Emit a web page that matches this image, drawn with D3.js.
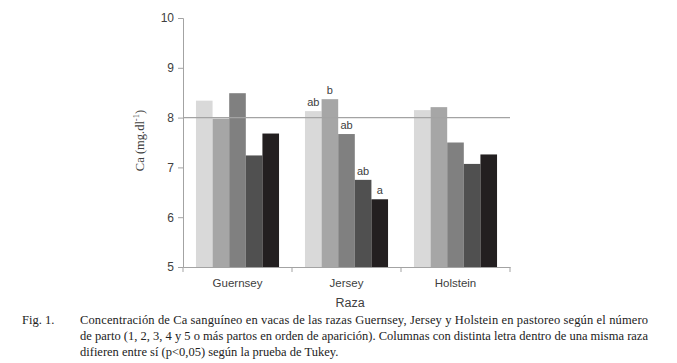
<!DOCTYPE html>
<html lang='es'>
<head>
  <meta charset='UTF-8'>
  <title>Ca sanguíneo</title>
  <style>
    body { margin: 0; background: #fff; }
    svg { display: block; }
  </style>
</head>
<body>
  <script src='https://cdn.jsdelivr.net/npm/d3@7/dist/d3.min.js'></script>
  <script>
// datos
const razas = ['Guernsey', 'Jersey', 'Holstein'];
const partos = ['1', '2', '3', '4', '5+'];
const parto1 = [8.34, 8.13, 8.15];
const parto2 = [7.98, 8.37, 8.21];
const parto3 = [8.49, 7.67, 7.50];
const parto4 = [7.24, 6.75, 7.07];
const parto5 = [7.68, 6.36, 7.26];
const letrasGuernsey = ['', '', '', '', ''];
const letrasJersey = ['ab', 'b', 'ab', 'ab', 'a'];
const letrasHolstein = ['', '', '', '', ''];
const yTicks = [5, 6, 7, 8, 9, 10];

const series = [parto1, parto2, parto3, parto4, parto5];
const letras = [letrasGuernsey, letrasJersey, letrasHolstein];
const colores = ['#d9d9d9', '#a6a6a6', '#808080', '#505050', '#231f20'];

const width = 677, height = 363;
const margin = { left: 183, right: 167, top: 18, bottom: 96 };

const svg = d3.select('body').append('svg')
    .attr('width', width)
    .attr('height', height);

const x0 = d3.scaleBand()
    .domain(razas)
    .range([margin.left, width - margin.right])
    .paddingInner(0).paddingOuter(0);

const x1 = d3.scaleBand()
    .domain(partos)
    .range([0, x0.bandwidth()])
    .paddingInner(0).paddingOuter(0.78);

const y = d3.scaleLinear()
    .domain([5, 10])
    .range([height - margin.bottom, margin.top]);

// barras
const filas = [];
razas.forEach((r, i) => {
  partos.forEach((p, j) => {
    filas.push({ raza: r, parto: p, valor: series[j][i], letra: letras[i][j], j: j });
  });
});

svg.append('g').selectAll('rect')
    .data(filas)
    .enter().append('rect')
    .attr('x', d => x0(d.raza) + x1(d.parto))
    .attr('width', x1.bandwidth())
    .attr('y', d => y(d.valor))
    .attr('height', d => y(5) - y(d.valor))
    .attr('fill', d => colores[d.j]);

// línea de referencia en 8
svg.append('line')
    .attr('x1', margin.left).attr('x2', width - margin.right)
    .attr('y1', y(8)).attr('y2', y(8))
    .attr('stroke', '#a3a3a3').attr('stroke-width', 1.2);

// letras de Tukey
svg.append('g').selectAll('text')
    .data(filas.filter(d => d.letra))
    .enter().append('text')
    .attr('x', d => x0(d.raza) + x1(d.parto) + x1.bandwidth() / 2)
    .attr('y', d => y(d.valor) - 5)
    .attr('text-anchor', 'middle')
    .attr('font-family', 'Liberation Sans, Arial, sans-serif')
    .attr('font-size', 11)
    .attr('fill', '#404040')
    .text(d => d.letra);

// eje y
const yAxis = svg.append('g')
    .attr('transform', 'translate(' + margin.left + ',0)')
    .call(d3.axisLeft(y).tickValues(yTicks).tickFormat(d3.format('d')).tickSize(5).tickPadding(4));
yAxis.select('.domain').attr('stroke', '#a3a3a3');
yAxis.selectAll('.tick line').attr('stroke', '#a3a3a3');
yAxis.selectAll('.tick text')
    .attr('font-family', 'Liberation Sans, Arial, sans-serif')
    .attr('font-size', 12)
    .attr('fill', '#404040');

// eje x
const xAxis = svg.append('g')
    .attr('transform', 'translate(0,' + y(5) + ')')
    .call(d3.axisBottom(x0).tickSize(0).tickPadding(12).tickSizeOuter(0));
xAxis.select('.domain').attr('stroke', '#a3a3a3');
xAxis.selectAll('.tick text')
    .attr('font-family', 'Liberation Sans, Arial, sans-serif')
    .attr('font-size', 11.5)
    .attr('fill', '#404040');
const bordes = razas.map(r => x0(r)).concat([x0.range()[1]]);
xAxis.selectAll('.sep')
    .data(bordes)
    .enter().append('line')
    .attr('x1', d => d).attr('x2', d => d)
    .attr('y1', 0).attr('y2', 5)
    .attr('stroke', '#a3a3a3');

// títulos de ejes
svg.append('text')
    .attr('transform', 'translate(144,' + (y(7.5) - 2) + ') rotate(-90)')
    .attr('text-anchor', 'middle')
    .attr('font-family', 'Liberation Serif, Times New Roman, serif')
    .attr('font-size', 12.5)
    .attr('fill', '#404040')
    .call(t => {
      t.append('tspan').text('Ca (mg.dl');
      t.append('tspan').attr('font-size', 8.5).attr('dy', -5).text('-1');
      t.append('tspan').attr('dy', 5).text(')');
    });

svg.append('text')
    .attr('x', 350).attr('y', 307)
    .attr('text-anchor', 'middle')
    .attr('font-family', 'Liberation Sans, Arial, sans-serif')
    .attr('font-size', 12.5)
    .attr('fill', '#404040')
    .text('Raza');

// pie de figura
const pie = [
  'Concentración de Ca sanguíneo en vacas de las razas Guernsey, Jersey y Holstein en pastoreo según el número',
  'de parto (1, 2, 3, 4 y 5 o más partos en orden de aparición). Columnas con distinta letra dentro de una misma raza',
  'difieren entre sí (p<0,05) según la prueba de Tukey.'
];
const cap = svg.append('g')
    .attr('font-family', 'Liberation Serif, Times New Roman, serif')
    .attr('font-size', 12.5)
    .attr('fill', '#222');
cap.append('text').attr('x', 22).attr('y', 324).text('Fig. 1.');
pie.forEach((linea, i) => {
  const t = cap.append('text')
      .attr('x', 80).attr('y', 324 + i * 16)
      .text(linea);
  if (i < 2) t.attr('textLength', 568).attr('lengthAdjust', 'spacing');
});
  </script>
</body>
</html>
